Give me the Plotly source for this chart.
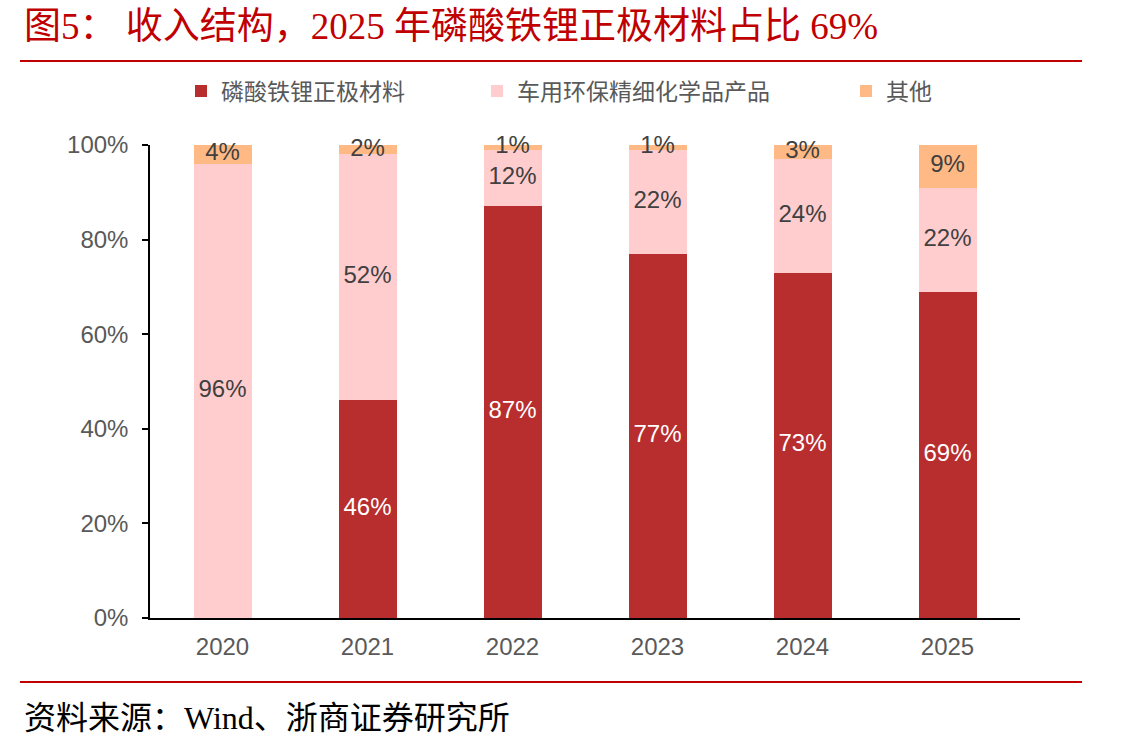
import plotly.graph_objects as go
import numpy as np

years = ["2020", "2021", "2022", "2023", "2024", "2025"]
lfp = [0, 46, 87, 77, 73, 69]
chem = [96, 52, 12, 22, 24, 22]
other = [4, 2, 1, 1, 3, 9]
series_names = ["磷酸铁锂正极材料", "车用环保精细化学品产品", "其他"]
colors = ["#B82D2E", "#FFCDCE", "#FFB984"]
text_colors = ["#FFFFFF", "#404040", "#404040"]
y_ticks = [0, 20, 40, 60, 80, 100]
y_tick_text = ["0%", "20%", "40%", "60%", "80%", "100%"]

FONT = "Liberation Sans, Arial, Noto Sans CJK SC, sans-serif"
SERIF = "Liberation Serif, Times New Roman, Noto Sans CJK SC, serif"

L, R, T, B = 150, 120, 145, 132
W, H = 1140, 750
plot_w = W - L - R
plot_h = H - T - B

def px_x(px):
    return (px - L) / plot_w

def px_y(py):
    return (H - B - py) / plot_h

fig = go.Figure()
series = [lfp, chem, other]
legend_ids = ["legend", "legend2", "legend3"]
legend_left = [181, 477, 846]
base = np.zeros(len(years))
for name, vals, col, tcol, lid in zip(series_names, series, colors, text_colors, legend_ids):
    vals = np.array(vals, dtype=float)
    fig.add_trace(go.Bar(
        x=years, y=vals, name=name, marker=dict(color=col, line=dict(width=0)),
        hoverinfo="skip", legend=lid,
    ))
    mids = base + vals / 2
    mask = vals > 0
    fig.add_trace(go.Scatter(
        x=[y for y, m in zip(years, mask) if m], y=mids[mask],
        text=[f"{int(v)}%" for v in vals[mask]], mode="text",
        textfont=dict(family=FONT, size=24, color=tcol),
        showlegend=False, hoverinfo="skip", cliponaxis=False,
    ))
    base = base + vals

legend_common = dict(
    orientation="h", xanchor="left", yanchor="middle",
    font=dict(family="Noto Sans CJK SC, sans-serif", size=23, color="#595959"),
    bgcolor="rgba(0,0,0,0)",
)
layout_legends = {}
for lid, lx in zip(legend_ids, legend_left):
    layout_legends[lid] = dict(legend_common, x=px_x(lx), y=px_y(91))

fig.update_layout(
    barmode="stack",
    bargap=0.6,
    width=W, height=H,
    margin=dict(l=L, r=R, t=T, b=B),
    paper_bgcolor="white", plot_bgcolor="white",
    font=dict(family=FONT, size=24, color="#595959"),
    showlegend=True,
    xaxis=dict(
        showline=True, linecolor="#000000", linewidth=1.5,
        ticks="", tickfont=dict(family=FONT, size=24, color="#595959"),
        showgrid=False, ticklabelstandoff=6,
    ),
    yaxis=dict(
        range=[0, 100], tickmode="array", tickvals=y_ticks, ticktext=y_tick_text,
        showline=True, linecolor="#000000", linewidth=1.5,
        ticks="outside", ticklen=6, tickcolor="#000000", tickwidth=1.5,
        tickfont=dict(family=FONT, size=24, color="#595959"),
        showgrid=False, zeroline=False, ticklabelstandoff=9,
    ),
    **layout_legends,
)

fig.add_annotation(
    text="图5： 收入结构，2025 年磷酸铁锂正极材料占比 69%",
    xref="paper", yref="paper", x=px_x(22), y=px_y(26),
    xanchor="left", yanchor="middle", showarrow=False,
    font=dict(family=SERIF, size=37, color="#C00000"),
)
fig.add_annotation(
    text="资料来源：Wind、浙商证券研究所",
    xref="paper", yref="paper", x=px_x(22), y=px_y(718),
    xanchor="left", yanchor="middle", showarrow=False,
    font=dict(family=SERIF, size=32, color="#000000"),
)
for yy in (61, 682):
    fig.add_shape(type="line", xref="paper", yref="paper",
                  x0=px_x(20), x1=px_x(1082), y0=px_y(yy), y1=px_y(yy),
                  line=dict(color="#C00000", width=2))

fig.write_html("out.html")
